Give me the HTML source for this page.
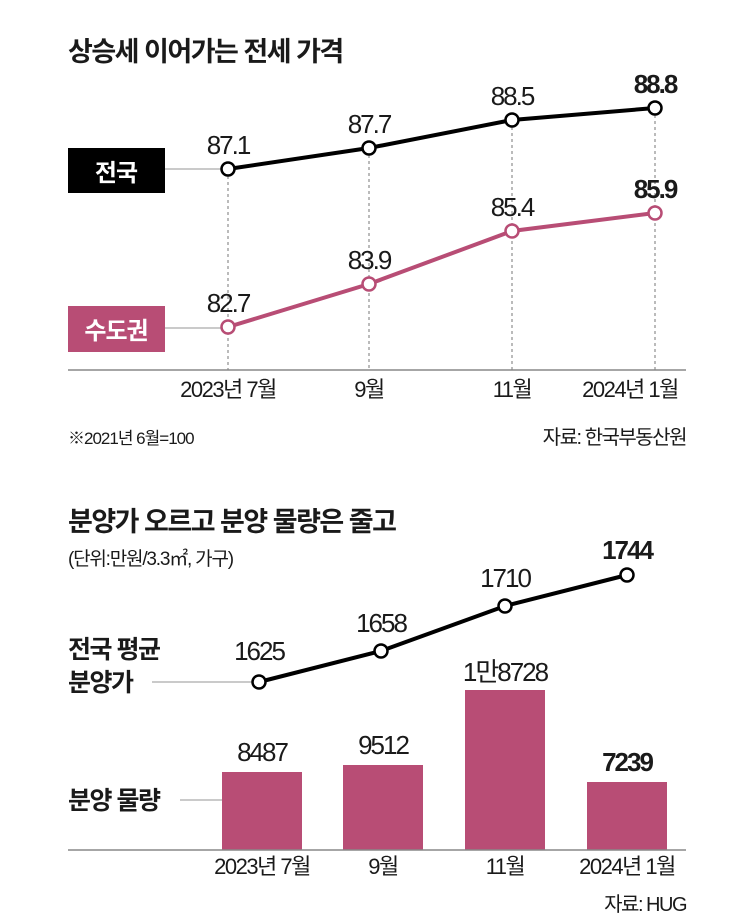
<!DOCTYPE html>
<html><head><meta charset="utf-8"><style>
body{margin:0;background:#fff}
svg{display:block}
text{font-family:"Liberation Sans","Noto Sans CJK KR",sans-serif;fill:#1a1a1a}
.k{font-family:"Liberation Sans","Noto Sans CJK KR",sans-serif}
</style></head><body>
<svg width="743" height="924" viewBox="0 0 743 924" xmlns="http://www.w3.org/2000/svg">
<rect width="743" height="924" fill="#fff"/>
<text x="68" y="61" class="k" font-size="27" font-weight="bold" letter-spacing="-1.5">상승세 이어가는 전세 가격</text>
<g stroke="#777" stroke-width="1" stroke-dasharray="3,3">
<line x1="228" y1="176" x2="228" y2="370"/><line x1="369" y1="155" x2="369" y2="370"/>
<line x1="512" y1="127" x2="512" y2="370"/><line x1="655" y1="115" x2="655" y2="370"/>
</g>
<line x1="68" y1="370" x2="686" y2="370" stroke="#888" stroke-width="1.5"/>
<line x1="165" y1="169" x2="222" y2="169" stroke="#aaa" stroke-width="1.2"/>
<line x1="165" y1="328" x2="222" y2="328" stroke="#aaa" stroke-width="1.2"/>
<rect x="68" y="148" width="97" height="45" fill="#000"/>
<text x="116" y="181" class="k" font-size="24" font-weight="bold" style="fill:#fff" text-anchor="middle" letter-spacing="-1">전국</text>
<rect x="68" y="306" width="97" height="46" fill="#b84d75"/>
<text x="116" y="339" class="k" font-size="24" font-weight="bold" style="fill:#fff" text-anchor="middle" letter-spacing="-1">수도권</text>
<polyline points="228,169 369,148 512,120 655,108" fill="none" stroke="#000" stroke-width="4"/>
<polyline points="228,327 369,284 512,231 655,213" fill="none" stroke="#b84d75" stroke-width="4"/>
<g fill="#fff" stroke="#000" stroke-width="2.5">
<circle cx="228" cy="169" r="6.5"/><circle cx="369" cy="148" r="6.5"/><circle cx="512" cy="120" r="6.5"/><circle cx="655" cy="108" r="6.5"/></g>
<g fill="#fff" stroke="#b84d75" stroke-width="2.5">
<circle cx="228" cy="327" r="6.5"/><circle cx="369" cy="284" r="6.5"/><circle cx="512" cy="231" r="6.5"/><circle cx="655" cy="213" r="6.5"/></g>
<g font-size="26" text-anchor="middle" letter-spacing="-2">
<text x="228" y="154">87.1</text><text x="369" y="133">87.7</text><text x="512" y="105">88.5</text><text x="655" y="93" font-weight="bold">88.8</text>
<text x="228" y="312">82.7</text><text x="369" y="269">83.9</text><text x="512" y="216">85.4</text><text x="655" y="198" font-weight="bold">85.9</text>
</g>
<g font-size="22" text-anchor="middle" letter-spacing="-1.5">
<text x="228" y="397">2023년 7월</text><text x="369" y="397">9월</text><text x="512" y="397">11월</text><text x="630" y="397">2024년 1월</text>
</g>
<text x="68" y="444" font-size="17" letter-spacing="-1">※2021년 6월=100</text>
<text x="686" y="444" font-size="20" text-anchor="end" letter-spacing="-1.5">자료: 한국부동산원</text>

<text x="68" y="531" class="k" font-size="27" font-weight="bold" letter-spacing="-1.5">분양가 오르고 분양 물량은 줄고</text>
<text x="68" y="565" font-size="19" letter-spacing="-1.2">(단위:만원/3.3㎡, 가구)</text>
<text x="68" y="658" font-size="25" font-weight="bold" class="k" letter-spacing="-1.5">전국 평균</text>
<text x="68" y="691" font-size="25" font-weight="bold" class="k" letter-spacing="-1.5">분양가</text>
<line x1="152" y1="682" x2="255" y2="682" stroke="#aaa" stroke-width="1.2"/>
<text x="68" y="809" font-size="25" font-weight="bold" class="k" letter-spacing="-1.5">분양 물량</text>
<line x1="180" y1="800" x2="222" y2="800" stroke="#aaa" stroke-width="1.2"/>
<g fill="#b84d75">
<rect x="222" y="772" width="80" height="78"/><rect x="343" y="765" width="80" height="85"/>
<rect x="465" y="690" width="80" height="160"/><rect x="587" y="782" width="80" height="68"/>
</g>
<line x1="68" y1="850" x2="686" y2="850" stroke="#888" stroke-width="1.5"/>
<polyline points="259,682 381,651 505,606 627,575" fill="none" stroke="#000" stroke-width="4"/>
<g fill="#fff" stroke="#000" stroke-width="2.5">
<circle cx="259" cy="682" r="6.5"/><circle cx="381" cy="651" r="6.5"/><circle cx="505" cy="606" r="6.5"/><circle cx="627" cy="575" r="6.5"/></g>
<g font-size="26" text-anchor="middle" letter-spacing="-2">
<text x="259" y="660">1625</text><text x="381" y="632">1658</text><text x="505" y="587">1710</text><text x="627" y="559" font-weight="bold">1744</text>
<text x="262" y="761">8487</text><text x="383" y="754">9512</text><text x="505" y="681">1만8728</text><text x="627" y="771" font-weight="bold">7239</text>
</g>
<g font-size="22" text-anchor="middle" letter-spacing="-1.5">
<text x="262" y="874">2023년 7월</text><text x="383" y="874">9월</text><text x="505" y="874">11월</text><text x="627" y="874">2024년 1월</text>
</g>
<text x="686" y="911" font-size="20" text-anchor="end" letter-spacing="-1.5">자료: HUG</text>
</svg>
</body></html>
